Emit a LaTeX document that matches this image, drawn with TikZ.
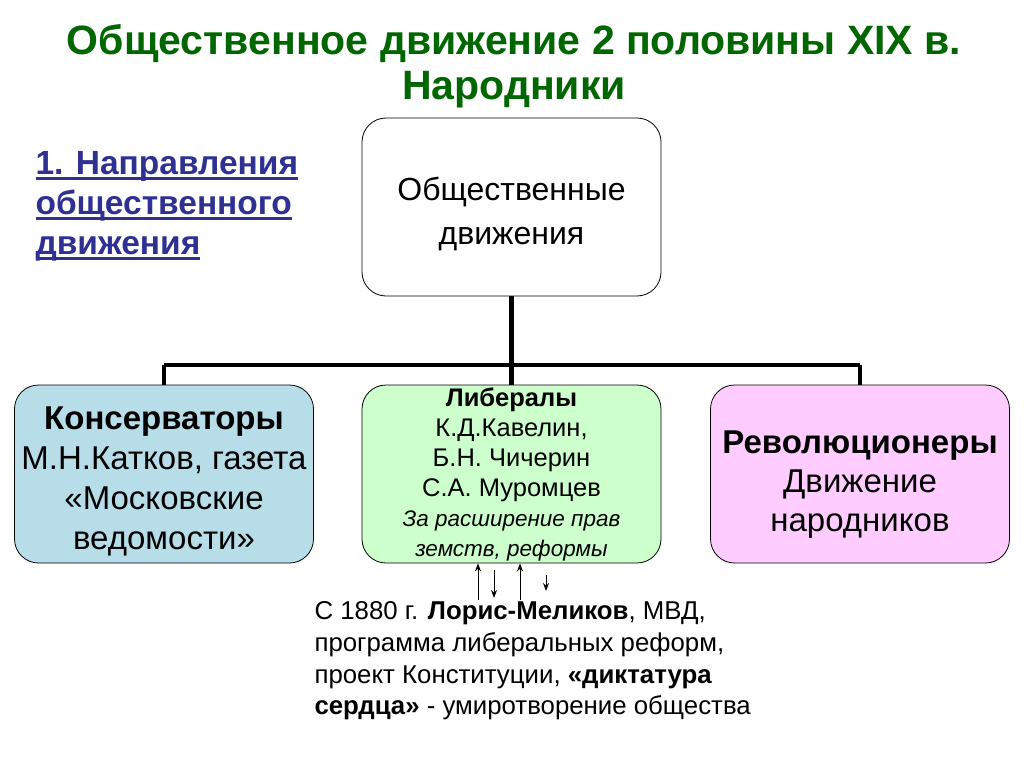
\documentclass[tikz,border=0pt]{standalone}
\usepackage{fontspec}
\setmainfont{Liberation Sans}
\usetikzlibrary{positioning}
\usetikzlibrary{arrows.meta}
\definecolor{titlegreen}{RGB}{0,102,0}
\definecolor{headblue}{RGB}{46,49,146}
\definecolor{consblue}{RGB}{183,222,232}
\definecolor{libgreen}{RGB}{204,255,204}
\definecolor{revpink}{RGB}{255,204,255}
\newcommand{\thickul}[1]{\setbox0\hbox{#1}\rlap{\rule[-5pt]{\wd0}{2.5pt}}\box0}
\newcommand{\libnote}[1]{{\itshape\fontsize{22.5}{27}\selectfont #1}}
\newcommand{\pushdown}[1]{\rule{0pt}{#1}}

\begin{document}
\begin{tikzpicture}[
                x = 1pt, y = -1pt,
                box/.style = {
                    draw,
                    rounded corners = 24pt,
                    minimum width = 299pt,
                    minimum height = 178pt,
                    align = center,
                    inner sep = 2pt,
                    line width = 0.8pt
                },
                tree/.style = {line width = 4.5pt},
                tick/.style = {-{Stealth[length=8pt,width=6pt]}, line width = 1pt}
            ]
            \useasboundingbox[fill=white] (0,0) rectangle (1024,767);

            % title and heading
            \node[font=\bfseries\fontsize{41}{45}\selectfont, text=titlegreen, align=center] (title) at (514,66)
                {Общественное движение 2 половины XIX в.\\Народники};
            \node[font=\bfseries\fontsize{33.5}{40}\selectfont, text=headblue, align=left, anchor=north west] (head) at (32,148)
                {\thickul{1. Направления}\\\thickul{общественного}\\\thickul{движения}};

            % boxes
            \node[box, fill=white, font=\fontsize{32}{44}\selectfont] (top) at (511.5,207) {\pushdown{37pt}Общественные\\движения};
            \node[box, fill=consblue, font=\fontsize{33}{40}\selectfont] (cons) at (164,474)
                {\pushdown{38pt}\textbf{Консерваторы}\\М.Н.Катков, газета\\«Московские\\ведомости»};
            \node[box, fill=libgreen, inner sep=0pt, font=\fontsize{25.5}{30}\selectfont] (lib) at (511.5,474)
                {\textbf{Либералы}\\К.Д.Кавелин,\\Б.Н. Чичерин\\С.А. Муромцев\\
                 \libnote{За расширение прав}\\\libnote{земств, реформы}};
            \node[box, fill=revpink, font=\fontsize{33}{39}\selectfont] (rev) at (860,474)
                {\pushdown{43pt}\textbf{Революционеры}\\Движение\\народников};

            \coordinate (bar) at (512,365);
            \draw[tree] (top.south) -- (top.south |- bar);
            \draw[tree] (cons.north |- bar) -- (rev.north |- bar);
            \draw[tree] (cons.north |- bar) -- (cons.north);
            \draw[tree] (lib.north |- bar) -- (lib.north);
            \draw[tree] (rev.north |- bar) -- (rev.north);

            % arrows under the liberals
            \coordinate (u1) at (478,600);
            \coordinate (d1) at (494,570);
            \coordinate (e1) at (494,598);
            \coordinate (u2) at (520,600);
            \coordinate (d2) at (546,575);
            \coordinate (e2) at (546,591);
            \draw[tick] (u1) -- (u1 |- lib.south);
            \draw[tick] (d1) -- (e1);
            \draw[tick] (u2) -- (u2 |- lib.south);
            \draw[tick] (d2) -- (e2);

            \node[font=\fontsize{25.8}{31.8}\selectfont, align=left, anchor=north west] (note) at (311,598)
                {С 1880 г. \textbf{Лорис-Меликов}, МВД,\\программа либеральных реформ,\\
                 проект Конституции, \textbf{«диктатура}\\\textbf{сердца»} - умиротворение общества};

         \end{tikzpicture}
\end{document}
